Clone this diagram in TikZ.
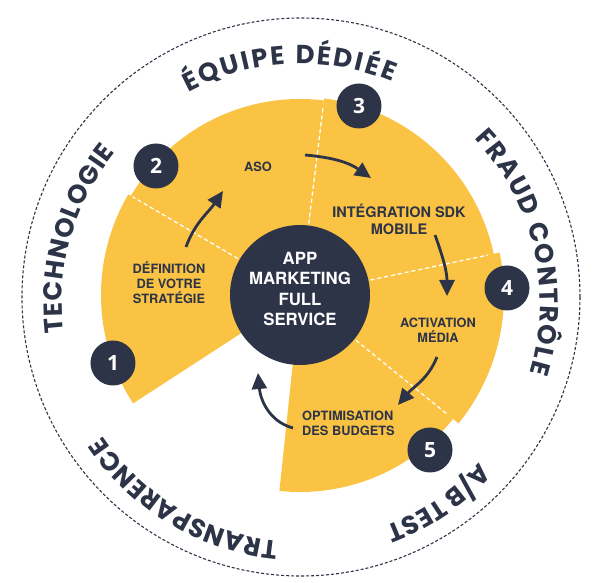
\documentclass[tikz,border=0pt]{standalone}
\usepackage{fontspec}
\setmainfont{TeX Gyre Heros}
\newfontfamily\ringfont{Poppins}
\newfontfamily\badgefont{Open Sans}
\usetikzlibrary{decorations.text,arrows.meta}
\definecolor{navy}{HTML}{2D3447}
\definecolor{sun}{HTML}{FBC343}
\begin{document}
\begin{tikzpicture}[x=1pt,y=1pt,
  sector/.style={fill=sun,draw=none},
  divider/.style={draw=white,line width=1.3pt,dash pattern=on 4pt off 3pt},
  badge/.style={circle,fill=navy,minimum size=45pt,inner sep=0pt,text=white,
    font=\badgefont\bfseries\fontsize{21}{21}\selectfont},
  steplabel/.style={text=navy,align=center,inner sep=0pt,
    font=\bfseries\fontsize{12.8}{15}\selectfont},
  biglabel/.style={text=navy,align=center,inner sep=0pt,
    font=\bfseries\fontsize{14.5}{17.3}\selectfont},
  flow/.style={draw=navy,line width=2.8pt,-{Triangle[length=16pt,width=15pt]}},
  ringtext/.style={decorate,decoration={text along path,text align=fit to path,
    text color=navy,text={|\ringfont\bfseries\fontsize{26}{26}\selectfont|#1}}}
]
\useasboundingbox (-301,-286) rectangle (299,297);
% outer dashed ring
\draw[navy,line width=1.1pt,dash pattern=on 3pt off 2pt] (0,0) circle[radius=279];
% yellow sectors
\coordinate (S) at (-1,2);
\fill[sector] (S) -- ++(149.6:199) arc[start angle=149.6,end angle=213,radius=199] -- cycle;
\fill[sector] (S) -- ++(83:196) arc[start angle=83,end angle=149.6,radius=196] -- cycle;
\fill[sector] (S) -- ++(12:198) arc[start angle=12,end angle=83,radius=198] -- cycle;
\fill[sector] (S) -- ++(-39:204) arc[start angle=-39,end angle=12,radius=204] -- cycle;
\fill[sector] (S) -- ++(-96:197) arc[start angle=-96,end angle=-39,radius=197] -- cycle;
% dividers
\draw[divider] ([shift={(149.6:72)}]S) -- ([shift={(149.6:194)}]S);
\draw[divider] ([shift={(83:72)}]S) -- ([shift={(83:189)}]S);
\draw[divider] ([shift={(12:72)}]S) -- ([shift={(12:192)}]S);
\draw[divider] ([shift={(-39:72)}]S) -- ([shift={(-39:190)}]S);
% hub
\node[circle,fill=navy,minimum size=140pt,inner sep=0pt] (hub) at (S) {};
\node[text=white,align=center,inner sep=0pt,font=\bfseries\fontsize{16.8}{20.3}\selectfont] (hubtext) at (-1,8) {APP\\MARKETING\\FULL\\SERVICE};
% badges
\node[badge] (b1) at (-188,-66) {1};
\node[badge] (b2) at (-145,131) {2};
\node[badge] (b3) at (58,191) {3};
\node[badge] (b4) at (206,9) {4};
\node[badge] (b5) at (129,-153) {5};
% step labels
\node[steplabel] (def) at (-132,14) {DÉFINITION\\DE VOTRE\\STRATÉGIE};
\node[steplabel] (aso) at (-43,130) {ASO};
\node[biglabel] (sdk) at (98,77.5) {INTÉGRATION SDK\\MOBILE};
\node[steplabel] (media) at (137,-33.5) {ACTIVATION\\MÉDIA};
\node[steplabel,anchor=west,align=left] (budget) at (1,-126.5) {OPTIMISATION\\DES BUDGETS};
% arrows
\coordinate (a1s) at (-115,50);  \coordinate (a1e) at (-78,106);
\coordinate (a2s) at (4,142);    \coordinate (a2e) at (70,119);
\coordinate (a3s) at (134,62);   \coordinate (a3e) at (146,1);
\coordinate (a4s) at (136,-60);  \coordinate (a4e) at (97,-108);
\coordinate (a5s) at (-8,-131);  \coordinate (a5e) at (-43,-76);
\draw[flow] (a1s) to[out=70,in=236] (a1e);
\draw[flow] (a2s) to[out=-5,in=145] (a2e);
\draw[flow] (a3s) to[out=-70,in=90] (a3e);
\draw[flow] (a4s) to[out=-112,in=50] (a4e);
\draw[flow] (a5s) to[out=165,in=-85] (a5e);
% ring texts
\path[ringtext={ÉQUIPE DÉDIÉE}] ([shift={(118.2:239)}]0,-6) arc[start angle=118.2,end angle=67.6,radius=239];
\path[ringtext={FRAUD CONTRÔLE}] ([shift={(43.5:239)}]0,-6) arc[start angle=43.5,end angle=-16.9,radius=239];
\path[ringtext={A/B TEST}] ([shift={(-41.9:239)}]0,-6) arc[start angle=-41.9,end angle=-69.2,radius=239];
\path[ringtext={TRANSPARENCE}] ([shift={(-95.4:239)}]0,-6) arc[start angle=-95.4,end angle=-146.1,radius=239];
\path[ringtext={TECHNOLOGIE}] ([shift={(187.2:239)}]0,-6) arc[start angle=187.2,end angle=140.9,radius=239];
\end{tikzpicture}
\end{document}
